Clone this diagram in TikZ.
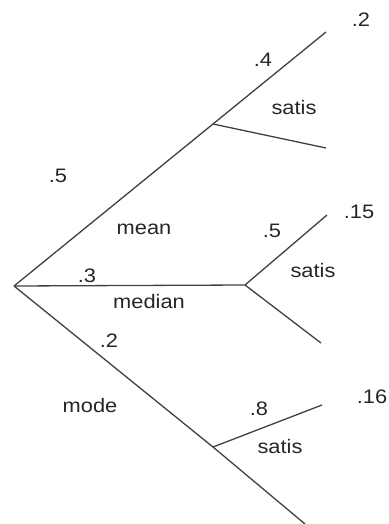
\documentclass[tikz,border=0pt]{standalone}
\usepackage{fontspec}
\setmainfont{Liberation Sans}
\begin{document}
\begin{tikzpicture}[x=1pt,y=-1pt,
  edge/.style={draw=black!75, line width=1.3pt},
  lbl/.style={inner sep=0pt, text=black!85, xscale=1.12, font=\fontsize{19.5}{22}\selectfont}]
\useasboundingbox (0,0) rectangle (388,524);
\coordinate (root) at (14,286);
\coordinate (m1) at (213,124);
\coordinate (m1a) at (326,32);
\coordinate (m1b) at (326,148);
\coordinate (m2) at (245,285);
\coordinate (m2a) at (327,215);
\coordinate (m2b) at (321,343);
\coordinate (m3) at (213,447);
\coordinate (m3a) at (322,405);
\coordinate (m3b) at (305,524);
\draw[edge] (root) -- (m1) -- (m1a);
\draw[edge] (m1) -- (m1b);
\draw[edge] (root) -- (m2);
\draw[edge] (m2) -- (m2a);
\draw[edge] (m2) -- (m2b);
\draw[edge] (root) -- (m3) -- (m3b);
\draw[edge] (m3) -- (m3a);
\node[lbl] (l1) at (361,20) {.2};
\node[lbl] (l2) at (263,60) {.4};
\node[lbl] (l3) at (294,108) {satis};
\node[lbl] (l4) at (58,176) {.5};
\node[lbl] (l5) at (144,229) {mean};
\node[lbl] (l6) at (272,231) {.5};
\node[lbl] (l7) at (359,212) {.15};
\node[lbl] (l8) at (313,271) {satis};
\node[lbl] (l9) at (87,276) {.3};
\node[lbl] (l10) at (149,302) {median};
\node[lbl] (l11) at (109,341) {.2};
\node[lbl] (l12) at (90,406) {mode};
\node[lbl] (l13) at (259,409) {.8};
\node[lbl] (l14) at (372,397) {.16};
\node[lbl] (l15) at (280,447) {satis};
\end{tikzpicture}
\end{document}
